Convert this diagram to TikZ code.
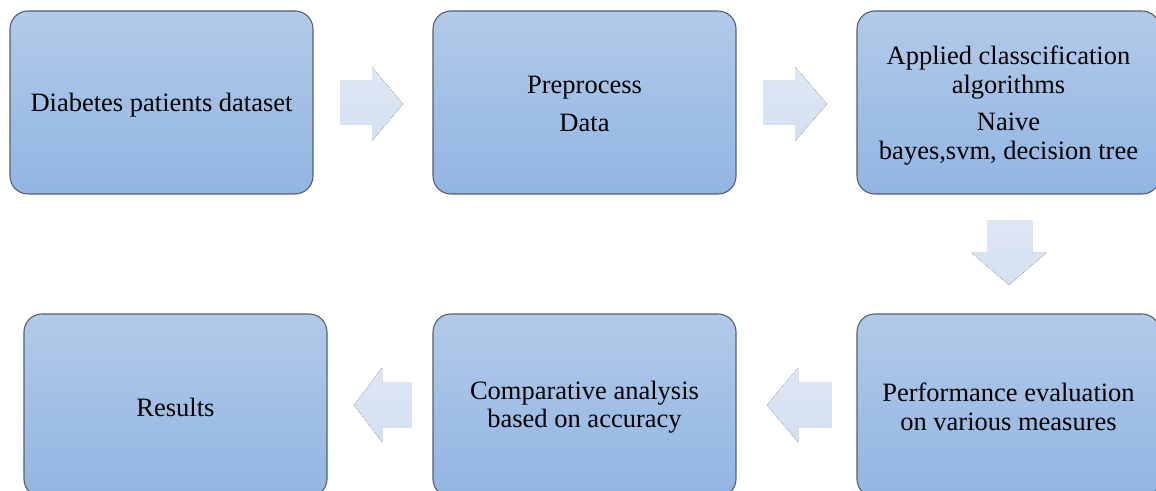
\documentclass[tikz,border=0pt]{standalone}
\usepackage{fontspec}
\setmainfont{Liberation Serif}
\definecolor{boxtop}{RGB}{178,202,233}
\definecolor{boxbot}{RGB}{145,181,226}
\definecolor{boxline}{RGB}{85,95,110}
\definecolor{arrtop}{RGB}{222,231,245}
\definecolor{arrbot}{RGB}{212,224,241}
\begin{document}
\begin{tikzpicture}[x=1pt,y=1pt,
  box/.style={draw=boxline, line width=1.1pt, rounded corners=18pt,
    top color=boxtop, bottom color=boxbot,
    minimum width=303pt, minimum height=183pt, inner sep=0pt},
  txt/.style={inner sep=0pt, align=center, font=\fontsize{26.5}{28.5}\selectfont, text=black},
  blockarrow/.style={top color=arrtop, bottom color=arrbot, draw=none}]
\useasboundingbox (0,0) rectangle (1156,490);
\node[box] (b1) at (161.5,387.5) {};
\node[box] (b2) at (584.5,387.5) {};
\node[box] (b3) at (1008.5,387.5) {};
\node[box] (b6) at (1008.5,84.5) {};
\node[box] (b5) at (584.5,84.5) {};
\node[box] (b4) at (175.5,84.5) {};
\node[txt] (t1) at ([yshift=-3pt]b1.center) {Diabetes patients dataset};
\node[txt] (t2) at ([yshift=-1.5pt]b2.center) {Preprocess\\[9.5pt]Data};
\node[txt] (t3) at ([yshift=-3pt]b3.center) {Applied classcification\\algorithms\\[9pt]Naive\\bayes,svm, decision tree};
\node[txt] (t6) at ([yshift=-1.5pt]b6.center) {Performance evaluation\\on various measures};
\node[txt] (t5) at ([yshift=-1.5pt]b5.center) {Comparative analysis\\based on accuracy};
\node[txt] (t4) at ([yshift=-2pt]b4.center) {Results};
% block arrows
\fill[blockarrow] (340,409) -- (372,409) -- (372,423) -- (403,386) -- (372,349) -- (372,365) -- (340,365) -- cycle;
\fill[blockarrow] (763,409) -- (795,409) -- (795,423) -- (827,386) -- (795,349) -- (795,365) -- (763,365) -- cycle;
\fill[blockarrow] (987,269) -- (1032,269) -- (1032,237) -- (1046,237) -- (1009,205) -- (972,237) -- (987,237) -- cycle;
\fill[blockarrow] (831,107) -- (798,107) -- (798,122) -- (767,85) -- (798,48) -- (798,63) -- (831,63) -- cycle;
\fill[blockarrow] (411,107) -- (382,107) -- (382,122) -- (354,85) -- (382,48) -- (382,63) -- (411,63) -- cycle;
\end{tikzpicture}
\end{document}
